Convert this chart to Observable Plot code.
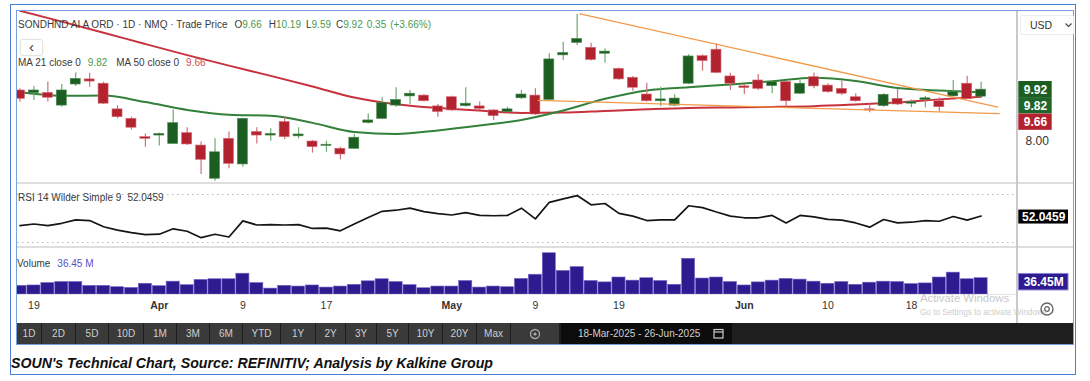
<!DOCTYPE html>
<html>
<head>
<meta charset="utf-8">
<script src="https://cdn.jsdelivr.net/npm/d3@7"></script>
<script src="https://cdn.jsdelivr.net/npm/@observablehq/plot@0.6"></script>
<style>
html,body{margin:0;padding:0;background:#fff;}
#root{position:relative;width:1090px;height:381px;overflow:hidden;font-family:"Liberation Sans",Arial,sans-serif;color:#333;}
.a{position:absolute;}
.hdr{font-size:10px;line-height:12px;white-space:nowrap;color:#3a3a3a;}
.g{color:#4b9a50;} .r{color:#cf4a55;} .p{color:#5a4fc6;}
.tb{position:absolute;top:0;height:21px;line-height:21px;font-size:10px;color:#cfcfcf;text-align:center;background:#3a3a3a;}
</style>
</head>
<body>
<div id="root"></div>
<script>
// ---------- DATA ----------
const ticker = "SONDHND AI A ORD · 1D · NMQ · Trade Price";
const open  = [9.89,9.79,9.80,9.33,10.11,10.30,10.14,9.19,8.84,8.16, 8.22,7.91,8.31,7.85,6.62,8.10,7.15,8.35,8.22,8.72, 8.19,8.00,7.84,7.73,7.73,8.69,8.84,9.33,9.67,9.70, 9.30,9.64,9.31,9.30,9.15,9.09,9.60,9.70,9.54,11.19, 11.65,11.47,11.25,10.69,10.36,9.74,9.49,9.33,10.14,11.16, 11.40,10.41,10.04,10.26,10.05,10.20,9.77,10.38,10.07,9.95, 9.64,9.19,9.31,9.58,9.40,9.54,9.49,9.67,10.14,9.66];
const high  = [9.95,10.04,10.20,10.11,10.54,10.53,10.20,9.33,8.90,8.28, 8.31,9.17,8.51,7.98,8.10,8.35,8.86,8.51,8.47,8.88, 8.51,8.04,8.01,7.79,8.26,9.02,9.62,9.99,9.89,9.74, 9.37,9.68,9.99,9.46,9.17,9.27,9.89,9.95,11.25,11.68, 12.70,11.64,11.43,10.72,10.41,10.16,10.01,9.73,11.21,11.21, 11.62,10.53,10.11,10.48,10.22,10.22,10.26,10.54,10.14,10.23, 9.77,9.40,9.77,9.93,9.54,9.67,9.62,10.26,10.42,10.19];
const low   = [9.45,9.52,9.46,9.27,10.04,10.01,9.37,8.84,8.43,7.79, 7.83,7.89,7.85,6.78,6.53,6.99,7.05,7.91,8.01,8.06, 8.10,7.57,7.60,7.32,7.70,8.65,8.81,9.27,9.37,9.47, 8.90,9.11,9.27,9.15,8.78,9.06,9.56,8.96,9.52,11.00, 11.56,10.98,10.90,10.26,9.86,9.46,9.30,9.30,10.11,10.60, 10.51,9.89,9.74,9.89,9.77,9.27,9.74,9.95,9.79,9.70, 9.46,9.06,9.27,9.33,9.25,9.25,9.09,9.67,9.58,9.59];
const close = [9.58,9.89,9.62,9.89,10.32,10.22,9.40,8.90,8.51,8.10, 8.28,8.68,7.89,7.32,7.60,7.17,8.84,8.22,8.28,8.16, 8.26,7.79,7.88,7.52,8.14,8.78,9.42,9.54,9.77,9.49, 9.09,9.15,9.40,9.21,8.94,9.19,9.74,9.00,11.04,11.28, 11.80,11.02,11.33,10.30,9.99,9.49,9.56,9.59,11.15,10.98, 10.54,10.14,9.98,9.95,10.20,9.49,10.14,10.04,9.83,9.77, 9.49,9.15,9.73,9.37,9.46,9.60,9.27,9.83,9.57,9.92];
const volumeM = [19.4,20.2,25.6,27.9,27.9,19.4,19.4,16.3,14.7,24.0, 18.6,28.7,20.9,32.6,34.1,34.1,46.5,25.6,13.2,19.4, 17.8,20.2,15.5,17.8,21.7,29.5,34.1,27.9,20.9,14.0, 17.8,17.8,30.2,15.5,17.8,16.3,34.9,44.2,92.3,52.7, 61.3,30.2,27.1,38.0,31.0,36.4,30.2,21.7,79.9,35.7, 38.0,27.9,20.2,27.1,31.0,34.9,33.3,28.7,24.0,27.9, 21.7,26.4,28.7,27.9,23.3,24.8,38.0,48.9,34.1,36.45];
const rsi = [44.0,45.4,44.0,46.0,48.9,48.3,43.1,40.3,38.3,36.6, 36.9,41.4,39.4,34.0,36.9,34.6,48.0,44.6,44.9,44.6, 44.9,41.7,42.0,39.7,45.4,50.9,56.0,56.9,58.6,55.7, 54.0,52.9,54.9,52.6,52.3,52.6,58.6,49.7,63.5,66.3, 69.1,61.4,62.5,54.3,52.0,48.3,48.9,48.9,60.6,59.1, 55.4,52.0,50.6,50.6,52.6,46.3,52.6,51.4,49.2,48.6, 46.3,42.8,49.2,46.3,46.9,48.3,47.7,51.7,48.6,52.0459];
const maIdx = [0,3,6,9,12,15,18,21,24,27,30,33,36,39,42,45,48,51,54,57,60,63,66,69];
const ma21  = [9.83,9.69,9.70,9.46,9.17,8.99,8.95,8.69,8.35,8.28,8.41,8.59,8.80,9.15,9.58,9.89,10.01,10.11,10.23,10.36,10.24,9.98,9.89,9.82];
const ma50  = [12.84,12.44,12.03,11.61,11.20,10.81,10.43,10.04,9.63,9.38,9.24,9.15,9.06,9.07,9.13,9.19,9.24,9.26,9.28,9.31,9.37,9.44,9.56,9.66];
const trendUpperIdx = [40.2, 70.2], trendUpperPx = [12.73, 9.27];
const trendLowerIdx = [37.2, 70.3], trendLowerPx = [9.52, 9.03];
const tickIdx    = [1, 10, 16, 22, 31, 37, 43, 52, 58, 64];
const tickLabels = ["19","Apr","9","17","May","9","19","Jun","10","18"];
const tickMonth  = [false,true,false,false,true,false,false,true,false,false];
const priceTickVals = [8];
const dateRange = "18-Mar-2025  -  26-Jun-2025";
const caption = "SOUN's Technical Chart, Source: REFINITIV; Analysis by Kalkine Group";
const toolbarLabels = ["1D","2D","5D","10D","1M","3M","6M","YTD","1Y","2Y","3Y","5Y","10Y","20Y","Max"];

// ---------- derived ----------
const N = open.length;
const candles = d3.range(N).map(i => ({i, o: open[i], h: high[i], l: low[i], c: close[i]}));
const up = candles.filter(d => d.c >= d.o), dn = candles.filter(d => d.c < d.o);
const ma21Data = maIdx.map((i, k) => ({i, v: ma21[k]}));
const ma50Data = maIdx.map((i, k) => ({i, v: ma50[k]}));
const rsiData = rsi.map((v, i) => ({i, v}));
const volData = volumeM.map((v, i) => ({i, v}));
const upperLine = trendUpperIdx.map((i, k) => ({i, v: trendUpperPx[k]}));
const lowerLine = trendLowerIdx.map((i, k) => ({i, v: trendLowerPx[k]}));
const ticks = tickIdx.map((i, k) => ({i, label: tickLabels[k], month: tickMonth[k]}));
const last = N - 1;
const chg = close[last] - close[last - 1];
const pct = chg / close[last - 1] * 100;

const GREEN = "#1c5e22", RED = "#b3222f", GWICK = "#6fa873", RWICK = "#d0707a";
const xDom = [-0.18, 71.54];
const XE = xDom[1];
const W = 1056, MR = 57;
const font = {background: "transparent", fontFamily: "Liberation Sans, Arial, sans-serif", fontSize: "11px", color: "#333", overflow: "visible"};

const root = document.getElementById("root");
function place(el, left, top) { el.style.position = "absolute"; el.style.left = left + "px"; el.style.top = top + "px"; root.appendChild(el); return el; }
function div(html, cls, left, top, css) { const d = document.createElement("div"); if (cls) d.className = cls; d.innerHTML = html; if (css) d.style.cssText += css; return place(d, left, top); }

// ---------- frames ----------
div("", "", 10, 4, "width:1064px;height:369px;border:1.5px solid #4a7fd4;");
div("", "", 16, 10, "width:1056px;height:333px;border:1px solid #7aa0e2;");

// ---------- price panel ----------
function tag(data, opt) {
  return [
    Plot.rect(data, {x1: () => XE, x2: () => XE, y1: "v", y2: "v", insetLeft: 2.3, insetRight: -opt.w, insetTop: -opt.h / 2, insetBottom: -opt.h / 2, fill: opt.fill, stroke: opt.stroke || "none", dy: opt.dy}),
    Plot.text(data, {x: () => XE, y: "v", text: "label", dx: 2.3 + (opt.w - 2.3) / 2, dy: opt.dy, fill: "white", fontWeight: "bold", fontSize: 12, textAnchor: "middle"})
  ];
}
const price = Plot.plot({
  width: W, height: 172, marginLeft: 0, marginRight: MR, marginTop: 0, marginBottom: 0,
  x: {domain: xDom, axis: null},
  y: {domain: [6.444, 12.815], axis: null},
  style: font,
  marks: [
    Plot.line(ma50Data, {x: "i", y: "v", stroke: "#c7323d", strokeWidth: 2, curve: "monotone-x", clip: true}),
    Plot.line(ma21Data, {x: "i", y: "v", stroke: "#33803a", strokeWidth: 2, curve: "monotone-x", clip: true}),
    Plot.ruleX(up, {x: "i", y1: "l", y2: "h", stroke: GWICK, strokeWidth: 1.2, clip: true}),
    Plot.ruleX(dn, {x: "i", y1: "l", y2: "h", stroke: RWICK, strokeWidth: 1.2, clip: true}),
    Plot.rect(up, {x1: d => d.i - 0.36, x2: d => d.i + 0.36, y1: "o", y2: "c", fill: GREEN, stroke: "#4d8a52", strokeWidth: 0.6, clip: true}),
    Plot.rect(dn, {x1: d => d.i - 0.36, x2: d => d.i + 0.36, y1: "o", y2: "c", fill: RED, stroke: "#d46a74", strokeWidth: 0.6, clip: true}),
    Plot.line(upperLine, {x: "i", y: "v", stroke: "#f2994a", strokeWidth: 1.3}),
    Plot.line(lowerLine, {x: "i", y: "v", stroke: "#f2994a", strokeWidth: 1.3}),
    Plot.text(priceTickVals, {y: d => d, text: d => d.toFixed(2), frameAnchor: "right", dx: 9, textAnchor: "start", fontSize: 12, fill: "#333"}),
    tag([{v: close[last], label: close[last].toFixed(2)}], {w: 35.7, h: 16.3, fill: GREEN, dy: 0}),
    tag([{v: ma21[ma21.length - 1], label: ma21[ma21.length - 1].toFixed(2)}], {w: 35.7, h: 16.3, fill: "#20652a", dy: 13.4}),
    tag([{v: ma50[ma50.length - 1], label: ma50[ma50.length - 1].toFixed(2)}], {w: 35.7, h: 16.3, fill: RED, dy: 25.5})
  ]
});
place(price, 17, 11);

// ---------- RSI panel ----------
const rsiPlot = Plot.plot({
  width: W, height: 64, marginLeft: 0, marginRight: MR, marginTop: 0, marginBottom: 0,
  x: {domain: xDom, axis: null},
  y: {domain: [25.83, 79.17], axis: null},
  style: font,
  marks: [
    Plot.ruleY([70, 30], {stroke: "#b8b8b8", strokeDasharray: "1.5,3.5", strokeWidth: 1.2}),
    Plot.line(rsiData, {x: "i", y: "v", stroke: "#151515", strokeWidth: 1.7, clip: true}),
    tag([{v: rsi[last], label: rsi[last].toFixed(4)}], {w: 52, h: 14, fill: "#000", dy: 1})
  ]
});
place(rsiPlot, 17, 183);

// ---------- Volume panel + date axis ----------
const volPlot = Plot.plot({
  width: W, height: 76, marginLeft: 0, marginRight: MR, marginTop: 0, marginBottom: 29,
  x: {domain: xDom, axis: null},
  y: {domain: [0, 105.1], axis: null},
  style: font,
  marks: [
    Plot.rect(volData, {x1: d => d.i - 0.47, x2: d => d.i + 0.47, y1: 0, y2: "v", fill: "#2e1b8f", stroke: "#7266c8", strokeWidth: 0.6, clip: true}),
    Plot.text(ticks.filter(d => !d.month), {x: "i", text: "label", frameAnchor: "bottom", dy: 14, fontSize: 10.5, fill: "#333"}),
    Plot.text(ticks.filter(d => d.month), {x: "i", text: "label", frameAnchor: "bottom", dy: 14, fontSize: 10.5, fontWeight: "bold", fill: "#333"}),
    tag([{v: volumeM[last], label: volumeM[last].toFixed(2) + "M"}], {w: 52, h: 16.5, fill: "#2e1b8f", stroke: "#8a80d8", dy: 4})
  ]
});
place(volPlot, 17, 247);

// ---------- separators ----------
div("", "", 17, 182, "width:1056px;height:2px;background:#dedede;");
div("", "", 17, 246, "width:1056px;height:2px;background:#dedede;");
div("", "", 17, 294, "width:999px;height:1px;background:#e4e4e4;");
div("", "", 1016, 11, "width:1.5px;height:312px;background:#c9c9c9;");

// ---------- header texts ----------
const gsp = (t, c, m) => `<span class="${c}" style="margin-left:${m}px">${t}</span>`;
div(`${ticker}<span style="margin-left:7px">O</span><span class="g">${open[last].toFixed(2)}</span><span style="margin-left:7px">H</span><span class="g">${high[last].toFixed(2)}</span><span style="margin-left:5px">L</span><span class="g">${low[last].toFixed(2)}</span><span style="margin-left:5px">C</span><span class="g">${close[last].toFixed(2)}</span>${gsp(chg.toFixed(2), "g", 4)}${gsp("(+" + pct.toFixed(2) + "%)", "g", 4)}`, "hdr", 18, 19);
div(`MA 21 close 0${gsp(ma21[ma21.length-1].toFixed(2), "g", 7)}<span style="margin-left:9px">MA 50 close 0</span>${gsp(ma50[ma50.length-1].toFixed(2), "r", 7)}`, "hdr", 18, 57);
div(`RSI 14 Wilder Simple 9${gsp(rsi[last].toFixed(4), "", 6)}`, "hdr", 18, 192);
div(`Volume${gsp(volumeM[last].toFixed(2) + " M", "p", 7)}`, "hdr", 17, 258);
div("&#8249;", "", 20, 39, "width:21px;height:15px;border:1px solid #e2e2e2;border-radius:3px;background:#fff;font-size:15px;line-height:13px;text-align:center;color:#333;box-shadow:0 0 2px rgba(0,0,0,0.08);");
div(`<span style="position:absolute;left:9px;top:3px;font-size:10.5px;color:#333">USD</span><svg style="position:absolute;left:44px;top:7px" width="7" height="5"><polyline points="0.5,0.5 3.5,3.5 6.5,0.5" fill="none" stroke="#444" stroke-width="1.1"/></svg>`, "", 1020, 15, "width:52px;height:18px;border:1px solid #ececec;border-radius:2px;background:#fff;");

// watermark + gear
div("Activate Windows", "", 920, 292, "font-size:11.3px;color:#c9c9c9;white-space:nowrap;");
div("Go to Settings to activate Windows.", "", 920, 308, "font-size:8.2px;color:#cdcdcd;white-space:nowrap;");
div(`<svg width="16" height="16"><circle cx="8" cy="8" r="6" fill="none" stroke="#666" stroke-width="1.4"/><circle cx="8" cy="8" r="2.3" fill="none" stroke="#666" stroke-width="1.3"/></svg>`, "", 1039, 301);

// ---------- toolbar ----------
const tb = div("", "", 17, 323, "width:1056px;height:21px;background:#1e1e1e;overflow:hidden;");
const bounds = [0, 25, 59, 92, 127, 160, 193, 226, 264, 299, 329, 360, 392, 426, 460, 494, 543];
toolbarLabels.forEach((t, k) => {
  const b = document.createElement("div"); b.className = "tb"; b.textContent = t;
  b.style.left = bounds[k] + "px"; b.style.width = (bounds[k + 1] - bounds[k] - 1) + "px"; tb.appendChild(b);
});
const gear = document.createElement("div"); gear.className = "tb"; gear.style.left = bounds[15] + "px"; gear.style.width = (bounds[16] - bounds[15] - 1) + "px";
gear.innerHTML = `<svg width="12" height="12" style="margin-top:4.5px"><circle cx="6" cy="6" r="4.5" fill="none" stroke="#aaa" stroke-width="1.3"/><circle cx="6" cy="6" r="1.6" fill="#aaa"/></svg>`;
tb.appendChild(gear);
const dr = document.createElement("div"); dr.className = "tb";
dr.style.cssText += "left:544px;width:171px;background:#0c0c0c;text-align:left;padding-left:17px;box-sizing:border-box;color:#d0d0d0;";
dr.innerHTML = `${dateRange}<svg width="11" height="11" style="position:absolute;left:152px;top:5px"><rect x="1" y="1.5" width="9" height="8.5" fill="none" stroke="#ccc" stroke-width="1.2"/><line x1="1" y1="4" x2="10" y2="4" stroke="#ccc" stroke-width="1.2"/></svg>`;
tb.appendChild(dr);

// ---------- caption ----------
div(`<svg width="520" height="22"><text x="0" y="16" textLength="482" lengthAdjust="spacingAndGlyphs" font-family="Liberation Sans, Arial, sans-serif" font-size="15" font-weight="bold" font-style="italic" fill="#111">${caption}</text></svg>`, "", 11, 352);
</script>
</body>
</html>
